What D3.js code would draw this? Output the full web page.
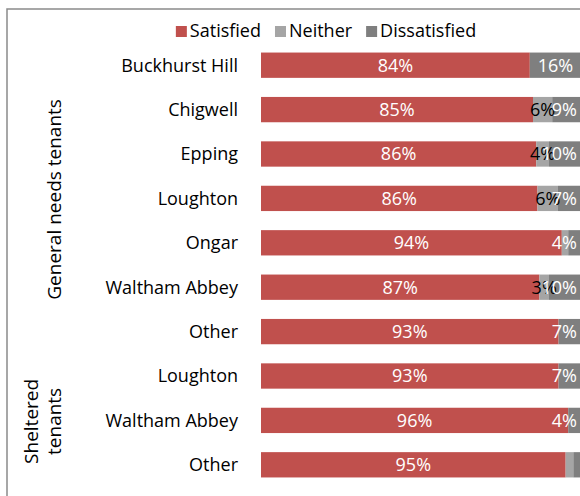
<!DOCTYPE html>
<html>
<head>
<meta charset="utf-8">
<script src="https://cdn.jsdelivr.net/npm/d3@7"></script>
<style>
  body { margin: 0; background: #fff; }
  svg { display: block; font-family: "Open Sans", Lato, sans-serif; }
</style>
</head>
<body>
<div class="container"></div>
<script>
// data
const areas = ['Buckhurst Hill', 'Chigwell', 'Epping', 'Loughton', 'Ongar', 'Waltham Abbey', 'Other',
               'Loughton', 'Waltham Abbey', 'Other'];
const satisfied    = [84, 85, 86, 86.4, 94, 87, 93, 93, 96, 95.2];
const neither      = [0, 6, 4, 6.4, 2, 3, 0, 0, 0, 2.4];
const dissatisfied = [16, 9, 10, 7.2, 4, 10, 7, 7, 4, 2.4];
const seriesNames = ['Satisfied', 'Neither', 'Dissatisfied'];
const groups = [
  {name: ['General needs tenants'], first: 0, last: 6},
  {name: ['Sheltered', 'tenants'], first: 7, last: 9}
];

const width = 580;
const height = 496;
const fontSize = 18;
const colors = ['#C0504D', '#A5A5A5', '#7F7F7F'];
const labelColors = ['#fff', '#000', '#fff'];

const svg = d3.select('.container')
              .append('svg')
              .attr('width', width)
              .attr('height', height);

//Outer chart frame (runs off the page right and bottom)
svg.append('rect')
   .attr('x', 7)
   .attr('y', 9)
   .attr('width', 700)
   .attr('height', 700)
   .attr('fill', 'none')
   .attr('stroke', '#8a8a8a')
   .attr('stroke-width', 1.5);

const y = d3.scaleBand()
            .domain(d3.range(areas.length))
            .range([43, 487])
            .paddingInner(0.43)
            .paddingOuter(0.215);

const x = d3.scaleLinear()
            .domain([0, 100])
            .range([261, 581]);

const rows = areas.map((a, i) => [satisfied[i], neither[i], dissatisfied[i]]);
const stacked = d3.stack().keys([0, 1, 2])(rows);

//Bars
stacked.forEach((layer, k) => {
  svg.append('g')
     .selectAll('rect')
     .data(layer)
     .join('rect')
     .attr('x', d => x(d[0]))
     .attr('y', (d, i) => y(i))
     .attr('width', d => x(d[1]) - x(d[0]))
     .attr('height', y.bandwidth())
     .attr('fill', colors[k]);
});

//Value labels, kept inside the chart area on the right
const rightLimit = 577;
stacked.forEach((layer, k) => {
  layer.forEach((d, i) => {
    const v = Math.round(d[1] - d[0]);
    if (v < 3) return;
    const t = svg.append('text')
       .attr('y', y(i) + y.bandwidth() / 2)
       .attr('dy', '0.36em')
       .attr('font-size', fontSize)
       .attr('fill', labelColors[k])
       .text(v + '%');
    const w = t.node().getComputedTextLength();
    const cx = Math.min((x(d[0]) + x(d[1])) / 2, rightLimit - w / 2);
    t.attr('x', cx - w / 2);
  });
});

//Category labels
svg.append('g')
   .selectAll('text')
   .data(areas)
   .join('text')
   .attr('x', 238)
   .attr('y', (d, i) => y(i) + y.bandwidth() / 2)
   .attr('dy', '0.36em')
   .attr('text-anchor', 'end')
   .attr('font-size', fontSize)
   .attr('fill', '#000')
   .text(d => d);

//Group labels (rotated)
groups.forEach(g => {
  const cy = (y(g.first) + y(g.last) + y.bandwidth()) / 2;
  const n = g.name.length;
  g.name.forEach((line, j) => {
    const bx = 61 - (n - 1 - j) * 23;
    svg.append('text')
       .attr('transform', `translate(${bx},${cy + 1}) rotate(-90)`)
       .attr('text-anchor', 'middle')
       .attr('font-size', 19)
       .attr('fill', '#000')
       .text(line);
  });
});

//Legend
const legend = svg.append('g');
let lx = 0;
seriesNames.forEach((s, k) => {
  const item = legend.append('g').attr('transform', `translate(${lx},0)`);
  item.append('rect')
      .attr('x', 0)
      .attr('y', -5)
      .attr('width', 11)
      .attr('height', 11)
      .attr('fill', colors[k]);
  const t = item.append('text')
      .attr('x', 14)
      .attr('dy', '0.36em')
      .attr('font-size', fontSize)
      .attr('fill', '#000')
      .text(s);
  lx += 14 + t.node().getComputedTextLength() + 14;
});
const legendW = lx - 14;
legend.attr('transform', `translate(${326 - legendW / 2},31)`);
</script>
</body>
</html>
